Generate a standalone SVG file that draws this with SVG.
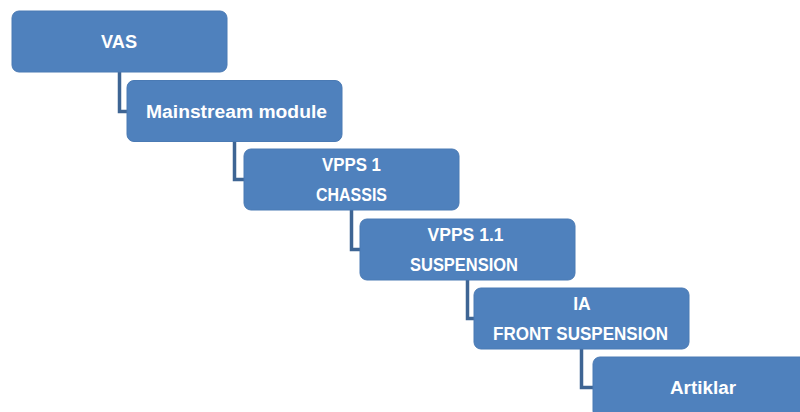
<svg xmlns="http://www.w3.org/2000/svg" width="800" height="412" viewBox="0 0 800 412">
  <style>
    .box { fill: #4F81BD; stroke: #4A7AB4; stroke-width: 1; }
    .lbl { font-family: "Liberation Sans", Arial, sans-serif; font-weight: bold; font-size: 18px; fill: #FFFFFF; text-anchor: middle; }
    .link { fill: none; stroke: #3E6594; stroke-width: 3.5; }
  </style>
  <rect width="800" height="412" fill="#FFFFFF"/>

  <!-- elbow connectors: bottom centre of parent down, then right into child -->
  <g id="connectors">
    <path class="link" d="M119.5 72 V111.5 H128"/>
    <path class="link" d="M234.5 141 V179.5 H245"/>
    <path class="link" d="M351.5 210 V249.5 H361"/>
    <path class="link" d="M467.5 279 V318.5 H475"/>
    <path class="link" d="M581.5 349 V387.5 H594"/>
  </g>

  <g id="vas">
    <rect class="box" x="12" y="11" width="215" height="61" rx="7"/>
    <text class="lbl" x="119" y="48" textLength="36" lengthAdjust="spacingAndGlyphs">VAS</text>
  </g>
  <g id="mainstream-module">
    <rect class="box" x="127" y="80.5" width="215" height="61" rx="7"/>
    <text class="lbl" x="236.5" y="117.5" textLength="181" lengthAdjust="spacingAndGlyphs">Mainstream module</text>
  </g>
  <g id="vpps-1">
    <rect class="box" x="244" y="149" width="215" height="61" rx="7"/>
    <text class="lbl" x="351.5" y="170.5" textLength="59" lengthAdjust="spacingAndGlyphs">VPPS 1</text>
    <text class="lbl" x="351.5" y="200.5" textLength="71" lengthAdjust="spacingAndGlyphs">CHASSIS</text>
  </g>
  <g id="vpps-1-1">
    <rect class="box" x="360" y="219" width="215" height="61" rx="7"/>
    <text class="lbl" x="465.5" y="240.5" textLength="76" lengthAdjust="spacingAndGlyphs">VPPS 1.1</text>
    <text class="lbl" x="464" y="270.5" textLength="108" lengthAdjust="spacingAndGlyphs">SUSPENSION</text>
  </g>
  <g id="ia">
    <rect class="box" x="474" y="288" width="215" height="61" rx="7"/>
    <text class="lbl" x="582" y="310" textLength="17.5" lengthAdjust="spacingAndGlyphs">IA</text>
    <text class="lbl" x="580.5" y="340" textLength="175" lengthAdjust="spacingAndGlyphs">FRONT SUSPENSION</text>
  </g>
  <g id="artiklar">
    <rect class="box" x="593" y="357" width="215" height="61" rx="7"/>
    <text class="lbl" x="703" y="394" textLength="66" lengthAdjust="spacingAndGlyphs">Artiklar</text>
  </g>
</svg>
